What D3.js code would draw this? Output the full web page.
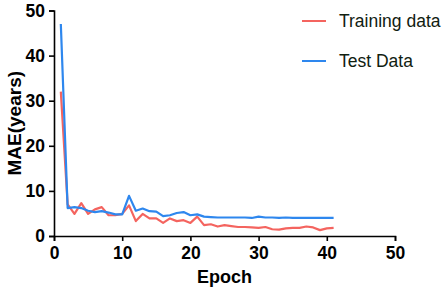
<!DOCTYPE html>
<html>
<head>
<meta charset="utf-8">
<script src="https://cdn.jsdelivr.net/npm/d3@7"></script>
<style>
  body { margin: 0; background: #fff; }
  svg text { font-family: Arial, "Liberation Sans", sans-serif; }
</style>
</head>
<body>
<div id="chart"></div>
<script>
// epochs 1..41
var epochs = d3.range(1, 42);
var trainMAE = [32, 7.0, 4.9, 7.3, 4.9, 5.9, 6.4, 4.6, 4.6, 4.9,
                6.8, 3.3, 4.9, 3.9, 3.9, 2.9, 3.9, 3.3, 3.5, 2.9,
                4.3, 2.4, 2.6, 2.1, 2.4, 2.2, 2.0, 2.0, 1.9, 1.8,
                2.0, 1.5, 1.4, 1.7, 1.8, 1.8, 2.1, 1.9, 1.3, 1.7, 1.8];
var testMAE = [47, 6.2, 6.4, 6.2, 5.6, 5.3, 5.5, 5.2, 4.8, 4.8,
               8.9, 5.6, 6.1, 5.5, 5.4, 4.4, 4.6, 5.1, 5.3, 4.6,
               4.8, 4.3, 4.2, 4.1, 4.1, 4.1, 4.1, 4.1, 4.0, 4.3,
               4.1, 4.1, 4.0, 4.1, 4.0, 4.0, 4.0, 4.0, 4.0, 4.0, 4.0];
var seriesNames = ['Training data', 'Test Data'];
var seriesColors = ['#f4645f', '#2e87ee'];
var xTicks = [0, 10, 20, 30, 40, 50];
var yTicks = [0, 10, 20, 30, 40, 50];

var width = 447, height = 290;
var margin = {top: 10.5, right: 52, bottom: 54, left: 54};

var svg = d3.select('#chart').append('svg')
    .attr('width', width)
    .attr('height', height);

var x = d3.scaleLinear().domain([0, 50]).range([margin.left, width - margin.right]);
var y = d3.scaleLinear().domain([0, 50]).range([height - margin.bottom, margin.top]);

var xAxis = svg.append('g')
    .attr('transform', 'translate(0,' + (height - margin.bottom) + ')')
    .call(d3.axisBottom(x).tickValues(xTicks).tickSize(5).tickPadding(6));
var yAxis = svg.append('g')
    .attr('transform', 'translate(' + margin.left + ',0)')
    .call(d3.axisLeft(y).tickValues(yTicks).tickSize(5).tickPadding(4));

[xAxis, yAxis].forEach(function(a) {
  a.select('.domain').attr('stroke', '#000').attr('stroke-width', 1.6);
  a.selectAll('.tick line').attr('stroke', '#000').attr('stroke-width', 1.6);
  a.selectAll('.tick text')
      .attr('fill', '#000')
      .style('font-size', '17.5px')
      .style('font-weight', 'bold');
});

var line = d3.line()
    .x(function(d) { return x(d[0]); })
    .y(function(d) { return y(d[1]); });

[trainMAE, testMAE].forEach(function(vals, i) {
  svg.append('path')
      .datum(epochs.map(function(e, j) { return [e, vals[j]]; }))
      .attr('fill', 'none')
      .attr('stroke', seriesColors[i])
      .attr('stroke-width', 2.2)
      .attr('stroke-linejoin', 'round')
      .attr('d', line);
});

// axis titles
svg.append('text')
    .attr('x', x(25))
    .attr('y', 283)
    .attr('text-anchor', 'middle')
    .style('font-size', '18px')
    .style('font-weight', 'bold')
    .text('Epoch');

svg.append('text')
    .attr('transform', 'translate(21,' + y(25) + ') rotate(-90)')
    .attr('text-anchor', 'middle')
    .style('font-size', '19px')
    .style('font-weight', 'bold')
    .text('MAE(years)');

// legend
var legend = svg.selectAll('g.legend')
    .data(seriesNames)
  .enter().append('g')
    .attr('class', 'legend')
    .attr('transform', function(d, i) { return 'translate(302,' + (21 + i * 40) + ')'; });

legend.append('line')
    .attr('x1', 0).attr('x2', 24)
    .attr('stroke', function(d, i) { return seriesColors[i]; })
    .attr('stroke-width', 2);

legend.append('text')
    .attr('x', 37)
    .attr('dy', '0.35em')
    .attr('fill', '#102010')
    .style('font-size', '17.5px')
    .text(function(d) { return d; });
</script>
</body>
</html>
